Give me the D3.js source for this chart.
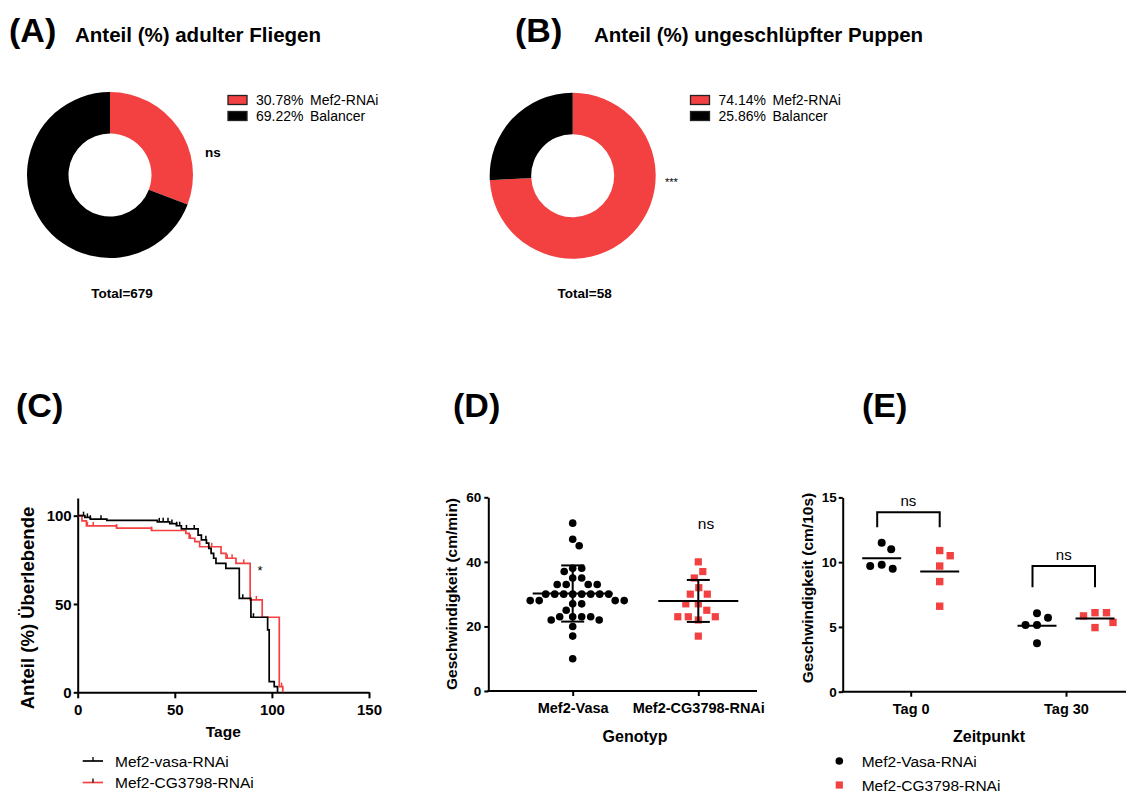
<!DOCTYPE html>
<html><head><meta charset="utf-8">
<script src="https://cdn.jsdelivr.net/npm/d3@7"></script>
<style>body{margin:0;background:#fff}text{font-family:"Liberation Sans",Arial,sans-serif}</style>
</head><body>
<script>
// ---------- DATA ----------
const pieLabels = ["Mef2-RNAi", "Balancer"];
const pieA = [30.78, 69.22];
const pieB = [74.14, 25.86];
const totalA = 679, totalB = 58;

// Survival (Kaplan-Meier) steps: [day, percent surviving from that day]
const survVasa = [[0,100],[3.7,99],[6.5,98],[15,97.3],[41,96.5],[47.4,95.5],[50.8,94.3],[53.4,92.5],[62,89],[63.7,86.3],[66.3,84.4],[67.5,81.5],[68.7,78.7],[70,75.9],[71.2,73],[76.3,70.2],[83.2,53.2],[89.2,42.5],[97.8,35.3],[98.6,6],[101.2,3.2],[102.9,0]];
const survCG = [[0,100],[2.2,97],[4.5,94.2],[20,93],[38,91.6],[55.7,90],[57.4,87.2],[60.3,85.3],[62.8,82.4],[73.8,78.7],[76.4,75.9],[81.5,73],[88.8,52.3],[95,42.5],[103.8,3.2],[105.6,0]];
const censVasa = [3,5,6.5,12,42,44,46.5,48.5,51,52.5,56,60,66,85,90.5];
const censCG = [5,8,20,38,58,69,77,79.5,85.5,92,105];
const survTicksX = [0,50,100,150];
const survTicksY = [0,50,100];

// Panel D: speed (cm/min) per genotype
const genotypes = ["Mef2-Vasa", "Mef2-CG3798-RNAi"];
const speedVasa = [52,47,45,38,38,37,35,35,33,33,33,33,30,30,30,30,30,30,30,30,28,28,28,28,27,27,25,23,23,23,23,22,22,20,17,10];
const speedCG = [40,37,35,32,30,30,27,27,25,22,23,23,23,17];
const meanD = [30.2, 27.9];
const sdD = [8.7, 6.5];
const ticksD = [0,20,40,60];

// Panel E: speed (cm/10s) at time points
const timepoints = ["Tag 0", "Tag 30"];
const eVasa = [[11.5,11.0,9.8,9.5,9.7],[6.05,5.7,5.15,5.15,3.75]];
const eCG = [[10.9,10.5,9.7,8.5,6.6],[6.1,6.1,5.85,5.35,4.95]];
const meanEVasa = [10.3, 5.1];
const meanECG = [9.27, 5.66];
const bracketTop = [13.85, 9.7];
const bracketLeg = [12.7, 8.06];
const ticksE = [0,5,10,15];
const seriesE = ["Mef2-Vasa-RNAi", "Mef2-CG3798-RNAi"];
const seriesC = ["Mef2-vasa-RNAi", "Mef2-CG3798-RNAi"];

// ---------- STYLE ----------
const RED = "#f34141", BLACK = "#000";
const svg = d3.select("body").append("svg").attr("width",1126).attr("height",792);

function txt(x, y, s, size, weight, anchor, extra) {
  const t = svg.append("text").attr("x",x).attr("y",y).text(s)
    .attr("font-size",size).attr("font-weight",weight||"normal")
    .attr("text-anchor",anchor||"start").attr("fill","#000");
  if (extra) extra(t);
  return t;
}
function styleAxis(g, size) {
  g.select(".domain").attr("stroke-width",2).attr("stroke","#000");
  g.selectAll(".tick line").attr("stroke-width",2).attr("stroke","#000");
  g.selectAll(".tick text").attr("font-weight","bold").attr("font-size",size)
    .attr("fill","#000").attr("font-family",'"Liberation Sans",Arial,sans-serif');
}

// ---------- Headers ----------
txt(9, 42, "(A)", 34, "bold");
txt(75, 42, "Anteil (%) adulter Fliegen", 20.5, "bold");
txt(515, 42, "(B)", 34, "bold");
txt(594, 42, "Anteil (%) ungeschlüpfter Puppen", 20.5, "bold");
txt(16, 417, "(C)", 34, "bold");
txt(453, 417, "(D)", 34, "bold");
txt(862, 417, "(E)", 34, "bold");

// ---------- Donuts ----------
const pie = d3.pie().sort(null).value(d => d);
const arc = d3.arc().innerRadius(41.5).outerRadius(83);
const pieColors = [RED, BLACK];
function donut(cx, cy, data, legX, total, sig, sigX, sigY, sigSize, sigWeight) {
  const g = svg.append("g").attr("transform",`translate(${cx},${cy})`);
  g.selectAll("path").data(pie(data)).join("path").attr("d",arc).attr("fill",(d,i)=>pieColors[i]);
  data.forEach((v,i) => {
    const y = 100 + i*16;
    svg.append("rect").attr("x",legX).attr("y",y-4.5).attr("width",19).attr("height",9)
      .attr("fill",pieColors[i]).attr("stroke","#222").attr("stroke-width",1.3);
    txt(legX+28, y+5, v.toFixed(2)+"%", 14);
    txt(legX+82, y+5, pieLabels[i], 14);
  });
  txt(cx+12, 298, "Total=" + total, 13.5, "bold", "middle");
  txt(sigX, sigY, sig, sigSize, sigWeight);
}
donut(110, 175, pieA, 228, totalA, "ns", 205, 157, 13.5, "bold");
donut(572.7, 175.7, pieB, 690.5, totalB, "***", 665, 186, 11, "normal");

// ---------- Panel C: survival ----------
const xC = d3.scaleLinear().domain([0,150]).range([77.7,369]);
const yC = d3.scaleLinear().domain([0,110]).range([692.3,498]);
const gxC = svg.append("g").attr("transform","translate(0,692.3)")
  .call(d3.axisBottom(xC).tickValues(survTicksX).tickSize(6).tickSizeOuter(0).tickPadding(6));
styleAxis(gxC, 15);
const gyC = svg.append("g").attr("transform","translate(77.7,0)")
  .call(d3.axisLeft(yC).tickValues(survTicksY).tickSize(4).tickSizeOuter(0).tickPadding(2));
styleAxis(gyC, 15);
gyC.selectAll(".tick text").attr("dy","0.35em");
const lineC = d3.line().x(d=>xC(d[0])).y(d=>yC(d[1])).curve(d3.curveStepAfter);
function survAt(steps, day){ let p = steps[0][1]; for (const s of steps) if (s[0] <= day) p = s[1]; return p; }
[[survCG, censCG, RED],[survVasa, censVasa, BLACK]].forEach(([steps, cens, col]) => {
  svg.append("path").attr("d",lineC(steps)).attr("fill","none").attr("stroke",col).attr("stroke-width",1.7);
  svg.selectAll(null).data(cens).join("line")
    .attr("x1",d=>xC(d)).attr("x2",d=>xC(d))
    .attr("y1",d=>yC(survAt(steps,d))).attr("y2",d=>yC(survAt(steps,d))-4)
    .attr("stroke",col).attr("stroke-width",1.5);
});
txt(260, 575, "*", 13, "normal", "middle");
txt(223.3, 737, "Tage", 15.5, "bold", "middle");
txt(0, 0, "Anteil (%) Überlebende", 18.5, "bold", "middle", t => t.attr("transform","translate(34,608) rotate(-90)"));
seriesC.forEach((s,i) => {
  const y = 761 + i*21.5, col = i ? RED : BLACK;
  svg.append("line").attr("x1",82.7).attr("x2",103).attr("y1",y).attr("y2",y).attr("stroke",col).attr("stroke-width",1.7);
  svg.append("line").attr("x1",93).attr("x2",93).attr("y1",y).attr("y2",y-4).attr("stroke","#000").attr("stroke-width",1.3);
  txt(115, y+5.5, s, 15.5);
});

// beeswarm helper
function swarm(values, yScale, cx, spacing) {
  const placed = [];
  return values.map(v => {
    const y = yScale(v);
    let dx = 0;
    for (let k = 0; k < 400; k++) {
      const off = (k % 2 ? 1 : -1) * Math.ceil(k/2) * 0.5;
      const ok = placed.every(p => Math.hypot(p.x - (cx+off), p.y - y) >= spacing - 0.01);
      if (ok) { dx = off; break; }
    }
    const pt = {x: cx + dx, y, v};
    placed.push(pt);
    return pt;
  });
}

// ---------- Panel D ----------
const xD = d3.scalePoint().domain(genotypes).range([572.7, 698.3]);
const yD = d3.scaleLinear().domain([0,60]).range([691,497.3]);
const gyD = svg.append("g").attr("transform","translate(488.3,0)")
  .call(d3.axisLeft(yD).tickValues(ticksD).tickSize(4).tickSizeOuter(0).tickPadding(3));
styleAxis(gyD, 13.5);
const gxD = svg.append("g").attr("transform","translate(0,691)")
  .call(d3.axisBottom(xD).tickSize(5).tickSizeOuter(0).tickPadding(7));
styleAxis(gxD, 14.5);
gxD.select(".domain").remove();
svg.append("line").attr("x1",487.3).attr("x2",757).attr("y1",691).attr("y2",691).attr("stroke","#000").attr("stroke-width",2);
txt(635, 742, "Genotyp", 16, "bold", "middle");
txt(0, 0, "Geschwindigkeit (cm/min)", 15.5, "bold", "middle", t => t.attr("transform","translate(457,594) rotate(-90)"));
swarm(speedVasa, yD, xD(genotypes[0]), 9).forEach(p =>
  svg.append("circle").attr("cx",p.x).attr("cy",p.y).attr("r",3.8).attr("fill",BLACK));
swarm(speedCG, yD, xD(genotypes[1]), 10.5).forEach(p =>
  svg.append("rect").attr("x",p.x-3.6).attr("y",p.y-3.6).attr("width",7.2).attr("height",7.2).attr("fill",RED));
genotypes.forEach((g,i) => {
  const cx = xD(g);
  const ym = yD(meanD[i]), yt = yD(meanD[i]+sdD[i]), yb = yD(meanD[i]-sdD[i]);
  const lines = [[cx-40,ym,cx+40,ym],[cx,yt,cx,yb],[cx-11.5,yt,cx+11.5,yt],[cx-11.5,yb,cx+11.5,yb]];
  lines.forEach(l => svg.append("line").attr("x1",l[0]).attr("y1",l[1]).attr("x2",l[2]).attr("y2",l[3])
    .attr("stroke","#000").attr("stroke-width",2));
});
txt(706, 529, "ns", 15.5, "normal", "middle");

// ---------- Panel E ----------
const xE = d3.scalePoint().domain(timepoints).range([910.7, 1066]);
const yE = d3.scaleLinear().domain([0,15]).range([691.7,497.4]);
const gyE = svg.append("g").attr("transform","translate(842.7,0)")
  .call(d3.axisLeft(yE).tickValues(ticksE).tickSize(4).tickSizeOuter(0).tickPadding(2));
styleAxis(gyE, 13.5);
const gxE = svg.append("g").attr("transform","translate(0,691.7)")
  .call(d3.axisBottom(xE).tickSize(5).tickSizeOuter(0).tickPadding(7));
styleAxis(gxE, 14.5);
gxE.select(".domain").remove();
svg.append("line").attr("x1",841.7).attr("x2",1126).attr("y1",691.7).attr("y2",691.7).attr("stroke","#000").attr("stroke-width",2);
txt(989, 742, "Zeitpunkt", 16, "bold", "middle");
txt(0, 0, "Geschwindigkeit (cm/10s)", 15.5, "bold", "middle", t => t.attr("transform","translate(813,588) rotate(-90)"));
const offE = 29;
timepoints.forEach((tp,i) => {
  const cb = xE(tp) - offE, cr = xE(tp) + offE;
  swarm(eVasa[i], yE, cb, 11.5).forEach(p =>
    svg.append("circle").attr("cx",p.x).attr("cy",p.y).attr("r",4).attr("fill",BLACK));
  swarm(eCG[i], yE, cr, 11.5).forEach(p =>
    svg.append("rect").attr("x",p.x-3.7).attr("y",p.y-3.7).attr("width",7.4).attr("height",7.4).attr("fill",RED));
  [[cb, meanEVasa[i]],[cr, meanECG[i]]].forEach(([c,m]) =>
    svg.append("line").attr("x1",c-19.5).attr("x2",c+19.5).attr("y1",yE(m)).attr("y2",yE(m)).attr("stroke","#000").attr("stroke-width",2));
  const bl = cb - 4.5, br = cr;
  svg.append("path").attr("d",`M${bl},${yE(bracketLeg[i])}V${yE(bracketTop[i])}H${br}V${yE(bracketLeg[i])}`)
    .attr("fill","none").attr("stroke","#000").attr("stroke-width",2);
  txt((bl+br)/2, yE(bracketTop[i]) - 6, "ns", 15, "normal", "middle");
});
seriesE.forEach((s,i) => {
  const y = 761 + i*24;
  if (i === 0) svg.append("circle").attr("cx",839.3).attr("cy",y).attr("r",3.8).attr("fill",BLACK);
  else svg.append("rect").attr("x",835.7).attr("y",y-3.6).attr("width",7.2).attr("height",7.2).attr("fill",RED);
  txt(861.7, y+5.5, s, 15.5);
});
</script>
</body></html>
